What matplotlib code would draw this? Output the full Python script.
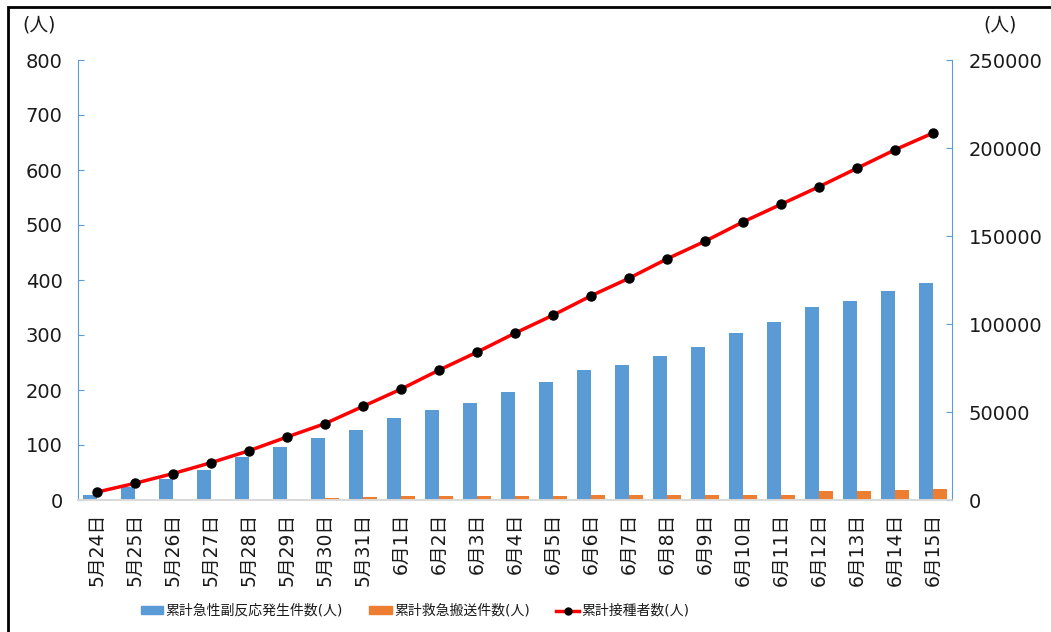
import numpy as np
import matplotlib
matplotlib.use("Agg")
import matplotlib.pyplot as plt
from matplotlib.patches import Rectangle
from matplotlib.lines import Line2D

plt.rcParams['font.family'] = ['DejaVu Sans', 'Noto Sans CJK JP']

# data
dates = ["5月24日", "5月25日", "5月26日", "5月27日", "5月28日", "5月29日", "5月30日",
         "5月31日", "6月1日", "6月2日", "6月3日", "6月4日", "6月5日", "6月6日",
         "6月7日", "6月8日", "6月9日", "6月10日", "6月11日", "6月12日", "6月13日",
         "6月14日", "6月15日"]
adverse = [9, 23, 39, 55, 78, 96, 113, 128, 149, 163, 176, 197, 214, 236,
           245, 262, 278, 304, 324, 351, 362, 380, 395]
transport = [0, 0, 0, 0, 0, 2, 3, 5, 7, 7, 7, 8, 8, 9,
             9, 10, 10, 10, 10, 16, 16, 19, 20]
vaccinated = [4500, 9500, 15000, 21200, 28000, 35800, 43400, 53200, 63000, 73800,
              84000, 94800, 105000, 116000, 126000, 137000, 147000, 158000, 168000,
              178000, 188500, 199000, 208500]

label_adverse = "累計急性副反応発生件数(人)"
label_transport = "累計救急搬送件数(人)"
label_vacc = "累計接種者数(人)"

BLUE = "#5b9bd5"
ORANGE = "#ed7d31"
RED = "#ff0000"
TXT = "#1a1a1a"

fig = plt.figure(figsize=(10.51, 6.32), dpi=100)
ax = fig.add_axes([78 / 1051, 1 - 500 / 632, (952 - 78) / 1051, 440 / 632])

x = np.arange(len(dates))
w = 0.36
ax.bar(x - w / 2, adverse, width=w, color=BLUE, zorder=2)
ax.bar(x + w / 2, transport, width=w, color=ORANGE, zorder=2)

ax.set_xlim(-0.5, len(dates) - 0.5)
ax.set_ylim(0, 800)
ax.set_yticks(np.arange(0, 801, 100))
ax.set_xticks(x)
ax.set_xticklabels(dates, rotation=90, va='top', ha='center')
ax.tick_params(axis='x', length=0, pad=9, labelsize=13.5, colors=TXT)
ax.tick_params(axis='y', direction='in', length=4, pad=11, labelsize=14,
               colors=TXT, color=BLUE)

ax2 = ax.twinx()
ax2.plot(x, vaccinated, color=RED, lw=2.5, marker='o', markersize=6.5,
         markerfacecolor='black', markeredgecolor='black', zorder=3)
ax2.set_ylim(0, 250000)
ax2.set_yticks(np.arange(0, 250001, 50000))
ax2.tick_params(axis='y', direction='in', length=4, pad=12, labelsize=14,
                colors=TXT, color=BLUE)

for a in (ax, ax2):
    a.spines['top'].set_visible(False)
    a.spines['left'].set_color(BLUE)
    a.spines['right'].set_color(BLUE)
    a.spines['bottom'].set_color("#d9d9d9")
    a.spines['bottom'].set_linewidth(1.2)
ax2.spines['left'].set_visible(False)
ax.spines['right'].set_visible(False)

fig.text(22 / 1051, 1 - 25 / 632, "(人)", fontsize=13.5, color=TXT, va='center', ha='left')
fig.text(1000 / 1051, 1 - 25 / 632, "(人)", fontsize=13.5, color=TXT, va='center', ha='center')

handles = [Rectangle((0, 0), 1, 1, color=BLUE),
           Rectangle((0, 0), 1, 1, color=ORANGE),
           Line2D([], [], color=RED, lw=2.5, marker='o', markersize=5,
                  markerfacecolor='black', markeredgecolor='black')]
fig.legend(handles, [label_adverse, label_transport, label_vacc],
           loc='center', bbox_to_anchor=(415 / 1051, 1 - 611 / 632), ncol=3,
           frameon=False, fontsize=10, handlelength=1.6, handleheight=0.45,
           handletextpad=0.2, columnspacing=1.9, labelcolor=TXT)

# outer chart frame
fig.patches.append(Rectangle((8 / 1051, -0.05), 1.1, 1 - 7 / 632 + 0.05,
                             transform=fig.transFigure, fill=False,
                             edgecolor='black', lw=2))

fig.savefig("out.png", dpi=100, facecolor='white')
